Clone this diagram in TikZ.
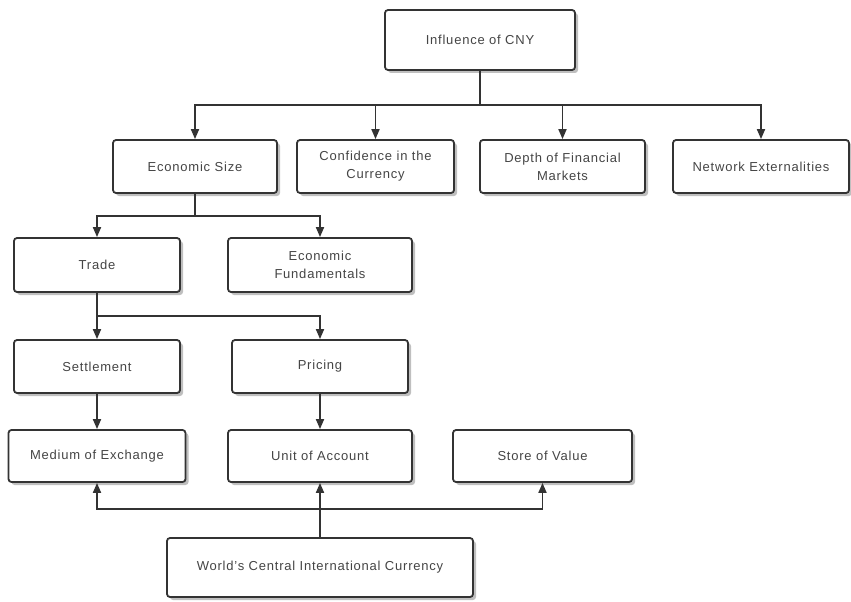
\documentclass[tikz,border=0pt]{standalone}
\usepackage{fontspec}
\setmainfont[LetterSpace=6]{Liberation Sans}
\usetikzlibrary{arrows.meta,shadows}
\definecolor{edge}{HTML}{333333}
\definecolor{txt}{HTML}{454545}
\begin{document}
\begin{tikzpicture}[x=1pt,y=-1pt,
  box/.style={draw=edge,line width=1.8pt,rounded corners=3pt,fill=white,
    text=txt,font=\fontsize{13}{18}\selectfont,align=center,inner sep=2pt,
    drop shadow={shadow xshift=3pt,shadow yshift=-3pt,fill=black,opacity=0.25}},
  arr/.style={draw=edge,line width=1.8pt,-{Triangle[length=10pt,width=8pt]}}]
\useasboundingbox (0,0) rectangle (851,602);
\node[box,minimum width=190pt,minimum height=60pt] (root) at (480,40) {Influence of CNY};
\node[box,minimum width=164pt,minimum height=53pt] (es) at (195,166.5) {Economic Size};
\node[box,minimum width=157pt,minimum height=53pt] (conf) at (375.5,166.5) {Confidence in the\\Currency};
\node[box,minimum width=165pt,minimum height=53pt] (depth) at (562.5,166.5) {Depth of Financial\\Markets};
\node[box,minimum width=176pt,minimum height=53pt] (net) at (761,166.5) {Network Externalities};
\node[box,minimum width=166pt,minimum height=54pt] (trade) at (97,265) {Trade};
\node[box,minimum width=184pt,minimum height=54pt] (fund) at (320,265) {Economic\\Fundamentals};
\node[box,minimum width=166pt,minimum height=53pt] (settle) at (97,366.5) {Settlement};
\node[box,minimum width=176pt,minimum height=53pt] (pricing) at (320,366.5) {Pricing};
\node[box,minimum width=177pt,minimum height=52pt] (medium) at (97,456) {Medium of Exchange};
\node[box,minimum width=184pt,minimum height=52pt] (unit) at (320,456) {Unit of Account};
\node[box,minimum width=179pt,minimum height=52pt] (store) at (542.5,456) {Store of Value};
\node[box,minimum width=306pt,minimum height=59pt] (world) at (320,567.5) {World's Central International Currency};

\draw[arr] (root.south) -- ++(0,34) -| (es.north);
\draw[arr] (root.south) -- ++(0,34) -| (conf.north);
\draw[arr] (root.south) -- ++(0,34) -| (depth.north);
\draw[arr] (root.south) -- ++(0,34) -| (net.north);
\draw[arr] (es.south) -- ++(0,22) -| (trade.north);
\draw[arr] (es.south) -- ++(0,22) -| (fund.north);
\draw[arr] (trade.south) -- ++(0,23) -| (settle.north);
\draw[arr] (trade.south) -- ++(0,23) -| (pricing.north);
\draw[arr] (settle.south) -- (medium.north);
\draw[arr] (pricing.south) -- (unit.north);
\draw[arr] (world.north) -- (unit.south);
\draw[arr] (world.north) -- ++(0,-28) -| (medium.south);
\draw[arr] (world.north) -- ++(0,-28) -| (store.south);
\end{tikzpicture}
\end{document}
